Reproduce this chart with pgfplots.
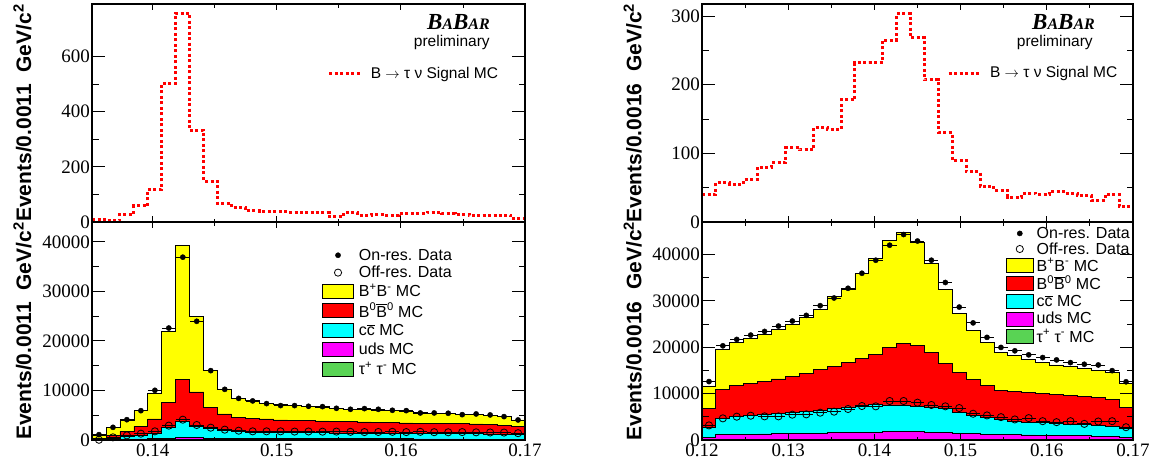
\documentclass[border=0pt]{standalone}
\usepackage{fontspec}
\setmainfont{Liberation Serif}
\newfontfamily\helv{Liberation Sans}
\usepackage{pgfplots}
\usepackage{pgfplotstable}
\pgfplotsset{compat=1.18}
\definecolor{rootgreen}{RGB}{89,211,84}
\definecolor{rootyellow}{RGB}{255,255,0}
\definecolor{rootred}{RGB}{255,0,0}
\definecolor{rootcyan}{RGB}{0,255,255}
\definecolor{rootmagenta}{RGB}{255,0,255}

\pgfplotstableread{
x S T R C M G
0.13510 8 875 400 200 80 30
0.13623 5 2500 1000 400 120 40
0.13735 28 3900 1750 670 170 40
0.13848 58 5900 2750 940 220 50
0.13960 118 9500 4250 1410 280 50
0.14073 503 21900 7600 2560 400 60
0.14185 757 39300 12200 3770 550 60
0.14298 332 24900 9700 2830 480 60
0.14411 148 14100 6500 2290 380 50
0.14523 67 10300 5250 1880 320 50
0.14636 52 8450 4580 1680 300 50
0.14748 40 7900 4400 1610 290 50
0.14861 37 7400 4250 1550 280 50
0.14974 37 7100 4050 1500 270 50
0.15086 34 6900 3980 1480 265 50
0.15199 36 6750 3910 1460 260 50
0.15311 34 6600 3840 1440 255 50
0.15424 19 6400 3780 1420 250 50
0.15536 34 6200 3710 1400 245 50
0.15649 24 6150 3640 1380 240 50
0.15762 27 6050 3570 1360 235 50
0.15874 24 5900 3500 1340 230 50
0.15987 31 5800 3440 1320 225 50
0.16099 31 5600 3370 1300 220 50
0.16212 36 5450 3370 1290 215 50
0.16325 31 5350 3300 1270 210 50
0.16437 28 5150 3300 1260 205 50
0.16550 22 5100 3250 1240 200 50
0.16662 22 4950 3100 1220 200 50
0.16775 24 4700 2970 1200 200 50
0.16887 12 4050 2700 1150 190 40
0.17000 12 4050 2700 1150 190 40
}\histL

\pgfplotstableread{
xc D O
0.13566 1080 50
0.13679 2560 540
0.13791 4100 940
0.13904 5920 1280
0.14017 10030 1750
0.14129 22600 2900
0.14242 36900 4100
0.14354 23960 3030
0.14467 14000 2490
0.14580 10230 2090
0.14692 8400 1880
0.14805 7890 1750
0.14917 7350 1750
0.15030 6950 1750
0.15143 6950 1700
0.15255 6810 1720
0.15368 6740 1680
0.15480 6400 1700
0.15593 6200 1650
0.15706 6340 1600
0.15818 6200 1620
0.15931 6000 1650
0.16043 5930 1600
0.16156 5460 1650
0.16268 5460 1580
0.16381 5400 1560
0.16494 5120 1600
0.16606 5260 1550
0.16719 5060 1520
0.16831 4720 1500
0.16944 4050 1380
}\dataL

\pgfplotstableread{
x S T R C M G
0.12000 40 11660 6770 2640 630 50
0.12161 57 19450 10940 4590 1150 60
0.12323 55 21100 11800 5030 1200 60
0.12484 62 21900 12240 5310 1250 60
0.12645 80 22700 12670 5460 1300 60
0.12806 86 23900 13170 5680 1350 60
0.12968 108 25000 13750 5890 1400 60
0.13129 105 26450 14330 6180 1450 60
0.13290 137 28100 15120 6400 1500 60
0.13452 135 31000 15770 6760 1550 60
0.13613 178 32560 16700 7120 1600 60
0.13774 232 35950 17580 7480 1650 60
0.13935 232 39050 18510 7700 1700 60
0.14097 265 43000 19950 7550 1800 60
0.14258 303 44830 20890 7550 1800 60
0.14419 268 42520 20310 7330 1750 60
0.14581 207 37980 18870 7120 1650 60
0.14742 130 32500 16550 6750 1550 60
0.14903 90 27290 14590 6020 1450 60
0.15065 73 23660 13060 5300 1350 60
0.15226 52 21040 11830 4790 1250 60
0.15387 46 18870 10740 4350 1200 60
0.15548 36 18140 10520 4060 1150 60
0.15710 42 17420 10300 3850 1100 60
0.15871 40 16760 10010 3700 1050 60
0.16032 45 16180 9800 3560 1000 60
0.16194 42 15820 9580 3410 950 60
0.16355 39 15460 9360 3270 900 60
0.16516 31 15090 9140 3120 850 60
0.16677 40 14590 8780 2980 800 60
0.16839 22 12190 7110 2540 550 50
0.17000 22 12190 7110 2540 550 50
}\histR

\pgfplotstableread{
xc D O
0.12081 12600 3150
0.12242 20310 4670
0.12403 21680 5030
0.12565 22620 5240
0.12726 23410 5100
0.12887 24560 5100
0.13048 25650 5460
0.13210 26870 5530
0.13371 28960 5890
0.13532 30620 6110
0.13694 32710 6690
0.13855 35950 7330
0.14016 38760 7260
0.14177 42000 8410
0.14339 44300 8410
0.14500 42900 8050
0.14661 38760 7550
0.14823 33960 7260
0.14984 28660 6890
0.15145 25250 5660
0.15306 22130 5300
0.15468 19960 4930
0.15629 19230 4430
0.15790 18360 4720
0.15952 17780 4060
0.16113 17270 3850
0.16274 16690 4060
0.16435 16330 3480
0.16597 16180 3990
0.16758 14950 4060
0.16919 12550 2760
}\dataR

\pgfplotsset{
  rootax/.style={
    scale only axis, axis on top, anchor=south west, height=218pt,
    scaled x ticks=false, scaled y ticks=false,
    tick align=inside,
    axis line style={line width=1.2pt},
    every tick/.style={black, line width=0.9pt},
    tick label style={font=\fontsize{19}{19}\selectfont},
    /pgf/number format/assume math mode=true,
    ylabel style={font=\helv\bfseries\fontsize{21}{21}\selectfont, at={(axis description cs:-0.139,0.5)}, anchor=south, inner sep=0pt},
    xticklabel style={inner sep=4pt},
    yticklabel style={inner sep=2pt},
    minor x tick num=1, minor y tick num=1,
    xtick style={/pgfplots/major tick length=6pt,/pgfplots/minor tick length=3.5pt},
    ytick style={/pgfplots/major tick length=13pt,/pgfplots/minor tick length=6.5pt},
  },
  sig/.style={const plot, rootred, line width=3pt, dash pattern=on 3pt off 2.5pt,
    legend image code/.code={\draw[##1] (0pt,0pt) -- (32pt,0pt);}},
  boxleg/.style={legend image code/.code={\draw[##1, draw=black, line width=0.8pt] (0pt,-7pt) rectangle (#1,7pt);}},
  markleg/.style={legend image code/.code={\draw[mark repeat=2,mark phase=2,##1] plot coordinates {(0pt,0pt) (#1/2,0pt) (#1,0pt)};}},
  hist/.style={const plot, draw=black, line width=0.8pt},
  ondata/.style={forget plot, only marks, mark=*, mark size=2.6pt, black,
    error bars/.cd, x dir=both, x fixed=#1, error mark=none, error bar style={line width=0.8pt}},
  offdata/.style={forget plot, only marks, mark=o, mark size=3.6pt, black, line width=0.8pt,
    error bars/.cd, x dir=both, x fixed=#1, error mark=none, error bar style={line width=0.8pt}},
}

\newcommand{\babar}{B{\fontsize{16}{16}\selectfont A}B{\fontsize{16}{16}\selectfont AR}}
\newcommand{\sigtext}{B $\rightarrow$ τ ν Signal MC}

\begin{document}
\begin{tikzpicture}
\path[use as bounding box] (0pt,0pt) rectangle (1159pt,-466pt);

% ---------------- top left
\begin{axis}[rootax, at={(92pt,-222pt)}, width=433pt,
  xmin=0.1351, xmax=0.17, ymin=0, ymax=790,
  xtick={0.14,0.15,0.16,0.17}, xticklabels={},
  ytick={0,200,400,600}, yticklabels={0,200,400,600},
  ylabel={Events/0.0011\ \ GeV/c\textsuperscript{2}},
  legend style={draw=none, fill=none, at={(axis description cs:0.544,0.679)}, anchor=west, inner sep=0pt,
    font=\helv\fontsize{15.5}{16}\selectfont, nodes={inner sep=0pt},
    /tikz/every odd column/.append style={column sep=8pt}},
]
\addplot[sig] table[x=x,y=S]{\histL};
\addlegendentry{\sigtext}
\node[anchor=base east, font=\bfseries\itshape\fontsize{23}{23}\selectfont, inner sep=0pt] at (axis description cs:0.919,0.881) {\babar};
\node[anchor=base east, font=\helv\fontsize{15.5}{16}\selectfont, inner sep=0pt] at (axis description cs:0.919,0.807) {preliminary};
\end{axis}

% ---------------- bottom left
\begin{axis}[rootax, at={(92pt,-440pt)}, width=433pt,
  xmin=0.1351, xmax=0.17, ymin=0, ymax=44000,
  xtick={0.14,0.15,0.16,0.17}, xticklabels={0.14,0.15,0.16,0.17},
  ytick={0,10000,20000,30000,40000}, yticklabels={0,10000,20000,30000,40000},
  ylabel={Events/0.0011\ \ GeV/c\textsuperscript{2}},
  legend cell align=left,
  legend style={draw=none, fill=none, at={(axis description cs:0.531,0.8775)}, anchor=north west, inner sep=0pt,
    font=\helv\fontsize{16}{16}\selectfont, nodes={inner sep=0pt}, row sep=4.5pt,
    /tikz/every odd column/.append style={column sep=5pt}},
]
\addlegendimage{only marks, mark=*, mark size=2.6pt, black, markleg=31pt}
\addlegendentry{On-res. Data}
\addlegendimage{only marks, mark=o, mark size=3.6pt, black, line width=0.8pt, markleg=31pt}
\addlegendentry{Off-res. Data}
\addplot[hist, fill=rootyellow, boxleg=31pt] table[x=x,y=T]{\histL} \closedcycle;
\addlegendentry{B\textsuperscript{+}B\textsuperscript{-} MC}
\addplot[hist, fill=rootred, boxleg=31pt] table[x=x,y=R]{\histL} \closedcycle;
\addlegendentry{B\textsuperscript{0}$\overline{\mbox{B}}$\textsuperscript{0} MC}
\addplot[hist, fill=rootcyan, boxleg=31pt] table[x=x,y=C]{\histL} \closedcycle;
\addlegendentry{c$\overline{\mbox{c}}$ MC}
\addplot[hist, fill=rootmagenta, boxleg=31pt] table[x=x,y=M]{\histL} \closedcycle;
\addlegendentry{uds MC}
\addplot[hist, fill=rootgreen, boxleg=31pt] table[x=x,y=G]{\histL} \closedcycle;
\addlegendentry{τ\textsuperscript{+} τ\textsuperscript{-} MC}
\addplot[offdata=0.000563] table[x=xc,y=O]{\dataL};
\addplot[ondata=0.000563] table[x=xc,y=D]{\dataL};
\end{axis}

% ---------------- top right
\begin{axis}[rootax, at={(702pt,-222pt)}, width=431pt,
  xmin=0.12, xmax=0.17, ymin=0, ymax=317.5,
  xtick={0.12,0.13,0.14,0.15,0.16,0.17}, xticklabels={},
  ytick={0,100,200,300}, yticklabels={0,100,200,300},
  ylabel={Events/0.0016\ \ GeV/c\textsuperscript{2}},
  legend style={draw=none, fill=none, at={(axis description cs:0.568,0.683)}, anchor=west, inner sep=0pt,
    font=\helv\fontsize{15.5}{16}\selectfont, nodes={inner sep=0pt},
    /tikz/every odd column/.append style={column sep=8pt}},
]
\addplot[sig] table[x=x,y=S]{\histR};
\addlegendentry{\sigtext}
\node[anchor=base east, font=\bfseries\itshape\fontsize{23}{23}\selectfont, inner sep=0pt] at (axis description cs:0.912,0.881) {\babar};
\node[anchor=base east, font=\helv\fontsize{15.5}{16}\selectfont, inner sep=0pt] at (axis description cs:0.907,0.807) {preliminary};
\end{axis}

% ---------------- bottom right
\begin{axis}[rootax, at={(702pt,-440pt)}, width=431pt,
  xmin=0.12, xmax=0.17, ymin=0, ymax=47000,
  xtick={0.12,0.13,0.14,0.15,0.16,0.17}, xticklabels={0.12,0.13,0.14,0.15,0.16,0.17},
  ytick={0,10000,20000,30000,40000}, yticklabels={0,10000,20000,30000,40000},
  ylabel={Events/0.0016\ \ GeV/c\textsuperscript{2}},
  legend cell align=left,
  legend style={draw=none, fill=none, at={(axis description cs:0.7046,0.9776)}, anchor=north west, inner sep=0pt,
    font=\helv\fontsize{16}{16}\selectfont, nodes={inner sep=0pt}, row sep=2.7pt,
    /tikz/every odd column/.append style={column sep=3pt}},
]
\addlegendimage{only marks, mark=*, mark size=2.6pt, black, markleg=27pt}
\addlegendentry{On-res. Data}
\addlegendimage{only marks, mark=o, mark size=3.6pt, black, line width=0.8pt, markleg=27pt}
\addlegendentry{Off-res. Data}
\addplot[hist, fill=rootyellow, boxleg=27pt] table[x=x,y=T]{\histR} \closedcycle;
\addlegendentry{B\textsuperscript{+}B\textsuperscript{-} MC}
\addplot[hist, fill=rootred, boxleg=27pt] table[x=x,y=R]{\histR} \closedcycle;
\addlegendentry{B\textsuperscript{0}$\overline{\mbox{B}}$\textsuperscript{0} MC}
\addplot[hist, fill=rootcyan, boxleg=27pt] table[x=x,y=C]{\histR} \closedcycle;
\addlegendentry{c$\overline{\mbox{c}}$ MC}
\addplot[hist, fill=rootmagenta, boxleg=27pt] table[x=x,y=M]{\histR} \closedcycle;
\addlegendentry{uds MC}
\addplot[hist, fill=rootgreen, boxleg=27pt] table[x=x,y=G]{\histR} \closedcycle;
\addlegendentry{τ\textsuperscript{+} τ\textsuperscript{-} MC}
\addplot[offdata=0.000806] table[x=xc,y=O]{\dataR};
\addplot[ondata=0.000806] table[x=xc,y=D]{\dataR};
\end{axis}
\end{tikzpicture}
\end{document}
